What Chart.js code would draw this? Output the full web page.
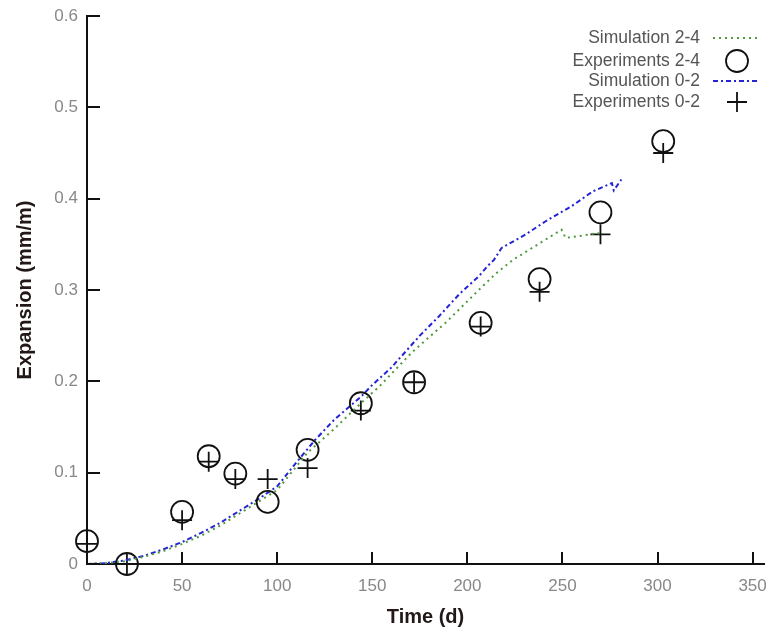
<!DOCTYPE html>
<html>
<head>
<meta charset="utf-8">
<script src="https://cdn.jsdelivr.net/npm/chart.js@4.4.0/dist/chart.umd.min.js"></script>
<style>
  html, body { margin: 0; padding: 0; background: #fff; }
  #wrap { width: 769px; height: 632px; }
</style>
</head>
<body>
<div id="wrap"><canvas id="expansion-chart" width="769" height="632"></canvas></div>
<script>
// Measured points (days, mm/m)
const expDays = [0, 21, 50, 64, 78, 95, 116, 144, 172, 207, 238, 270, 303];
const exp24Values = [0.025, 0.000, 0.057, 0.118, 0.099, 0.068, 0.125, 0.176, 0.199, 0.264, 0.312, 0.385, 0.463];
const exp02Values = [0.022, 0.000, 0.048, 0.112, 0.093, 0.093, 0.105, 0.168, 0.199, 0.260, 0.298, 0.361, 0.450];

// Simulation curves
const sim24Days = [0, 10, 20, 30, 40, 50, 60, 70, 80, 90, 100, 116, 130, 144, 154, 171, 189, 206, 215, 224, 241, 249.5, 251.7, 258.7, 267.4, 270];
const sim24Values = [0, 0.001, 0.003, 0.008, 0.014, 0.022, 0.031, 0.042, 0.055, 0.068, 0.081, 0.122, 0.148, 0.176, 0.195, 0.232, 0.265, 0.300, 0.318, 0.333, 0.355, 0.366, 0.357, 0.359, 0.362, 0.362];
const sim02Days = [0, 10, 20, 30, 40, 50, 60, 70, 80, 90, 100, 110, 120, 130, 144, 150, 160, 175, 185, 196, 206, 211, 214, 218, 230, 241, 255, 266, 276, 277, 281];
const sim02Values = [0, 0.001, 0.004, 0.009, 0.016, 0.024, 0.034, 0.045, 0.058, 0.071, 0.085, 0.111, 0.136, 0.158, 0.183, 0.196, 0.215, 0.250, 0.271, 0.296, 0.315, 0.327, 0.333, 0.346, 0.360, 0.375, 0.392, 0.408, 0.417, 0.409, 0.421];

const seriesLabels = ['Simulation 2-4', 'Experiments 2-4', 'Simulation 0-2', 'Experiments 0-2'];
const xTickValues = [0, 50, 100, 150, 200, 250, 300, 350];

const FONT = '"Liberation Sans", Arial, sans-serif';

function toPoints(xs, ys) {
    return xs.map((x, i) => ({ x: x, y: ys[i] }));
}

// Ticks pointing into the plot area
const inwardTicks = {
    id: 'inwardTicks',
    afterDraw(chart) {
        const { ctx, chartArea } = chart;
        const x = chart.scales.x;
        const y = chart.scales.y;
        ctx.save();
        ctx.strokeStyle = '#111';
        ctx.lineWidth = 2;
        x.ticks.forEach(t => {
            const px = Math.round(x.getPixelForValue(t.value));
            ctx.beginPath();
            ctx.moveTo(px, chartArea.bottom);
            ctx.lineTo(px, chartArea.bottom - 12);
            ctx.stroke();
        });
        y.ticks.forEach(t => {
            const py = Math.round(y.getPixelForValue(t.value));
            ctx.beginPath();
            ctx.moveTo(chartArea.left, py);
            ctx.lineTo(chartArea.left + 13, py);
            ctx.stroke();
        });
        ctx.restore();
    }
};

// Legend in the top right: label first, symbol after it
const sideLegend = {
    id: 'sideLegend',
    afterDraw(chart) {
        const ctx = chart.ctx;
        const rows = [38, 61, 81, 102];
        const textRight = 700;
        const symX = 737;
        ctx.save();
        ctx.font = '17.5px ' + FONT;
        ctx.fillStyle = '#555';
        ctx.textAlign = 'right';
        ctx.textBaseline = 'middle';
        chart.data.datasets.forEach((ds, i) => {
            const yy = rows[i];
            ctx.fillText(ds.label, textRight, yy);
            ctx.strokeStyle = ds.borderColor;
            ctx.lineWidth = ds.borderWidth;
            ctx.beginPath();
            if (ds.showLine) {
                ctx.setLineDash(ds.borderDash);
                ctx.moveTo(713, yy);
                ctx.lineTo(759, yy);
            } else if (ds.pointStyle === 'circle') {
                ctx.setLineDash([]);
                ctx.arc(symX, yy, ds.pointRadius, 0, Math.PI * 2);
            } else {
                ctx.setLineDash([]);
                ctx.moveTo(symX - ds.pointRadius, yy);
                ctx.lineTo(symX + ds.pointRadius, yy);
                ctx.moveTo(symX, yy - ds.pointRadius);
                ctx.lineTo(symX, yy + ds.pointRadius);
            }
            ctx.stroke();
        });
        ctx.restore();
    }
};

document.addEventListener('DOMContentLoaded', function() {
    const ctx = document.getElementById('expansion-chart');
    new Chart(ctx, {
        type: 'scatter',
        data: {
            datasets: [
                {
                    label: seriesLabels[0],
                    data: toPoints(sim24Days, sim24Values),
                    showLine: true,
                    borderColor: '#4f9a3c',
                    borderWidth: 2,
                    borderDash: [2, 4],
                    pointRadius: 0,
                    fill: false
                },
                {
                    label: seriesLabels[1],
                    data: toPoints(expDays, exp24Values),
                    showLine: false,
                    pointStyle: 'circle',
                    pointRadius: 11,
                    borderColor: '#111',
                    backgroundColor: 'rgba(0,0,0,0)',
                    borderWidth: 1.8,
                    clip: false
                },
                {
                    label: seriesLabels[2],
                    data: toPoints(sim02Days, sim02Values),
                    showLine: true,
                    borderColor: '#2424d6',
                    borderWidth: 2,
                    borderDash: [5, 3, 2, 3],
                    pointRadius: 0,
                    fill: false
                },
                {
                    label: seriesLabels[3],
                    data: toPoints(expDays, exp02Values),
                    showLine: false,
                    pointStyle: 'cross',
                    pointRadius: 10,
                    borderColor: '#111',
                    borderWidth: 1.8,
                    clip: false
                }
            ]
        },
        options: {
            responsive: false,
            animation: false,
            layout: { autoPadding: false, padding: { top: 16, right: 5, left: 0, bottom: 0 } },
            plugins: {
                legend: { display: false },
                tooltip: { enabled: false }
            },
            scales: {
                x: {
                    type: 'linear',
                    min: 0,
                    max: 356,
                    afterBuildTicks: function(scale) {
                        scale.ticks = xTickValues.map(v => ({ value: v }));
                    },
                    afterFit: function(scale) {
                        scale.height = 68;
                        scale.paddingLeft = 0;
                        scale.paddingRight = 0;
                    },
                    ticks: {
                        padding: 12,
                        color: '#888',
                        font: { family: FONT, size: 17 }
                    },
                    grid: { display: false, drawTicks: false },
                    border: { display: true, color: '#111', width: 2 },
                    title: {
                        display: true,
                        text: 'Time (d)',
                        color: '#221818',
                        padding: { top: 0, bottom: 3 },
                        font: { family: FONT, size: 20, weight: 'bold' }
                    }
                },
                y: {
                    type: 'linear',
                    min: 0,
                    max: 0.6,
                    afterFit: function(scale) {
                        scale.width = 87;
                        scale.paddingTop = 0;
                        scale.paddingBottom = 0;
                    },
                    ticks: {
                        stepSize: 0.1,
                        padding: 9,
                        color: '#888',
                        font: { family: FONT, size: 17 }
                    },
                    grid: { display: false, drawTicks: false },
                    border: { display: true, color: '#111', width: 2 },
                    title: {
                        display: true,
                        text: 'Expansion (mm/m)',
                        color: '#221818',
                        padding: { top: 13, bottom: 0 },
                        font: { family: FONT, size: 20, weight: 'bold' }
                    }
                }
            }
        },
        plugins: [inwardTicks, sideLegend]
    });
});
</script>
</body>
</html>
